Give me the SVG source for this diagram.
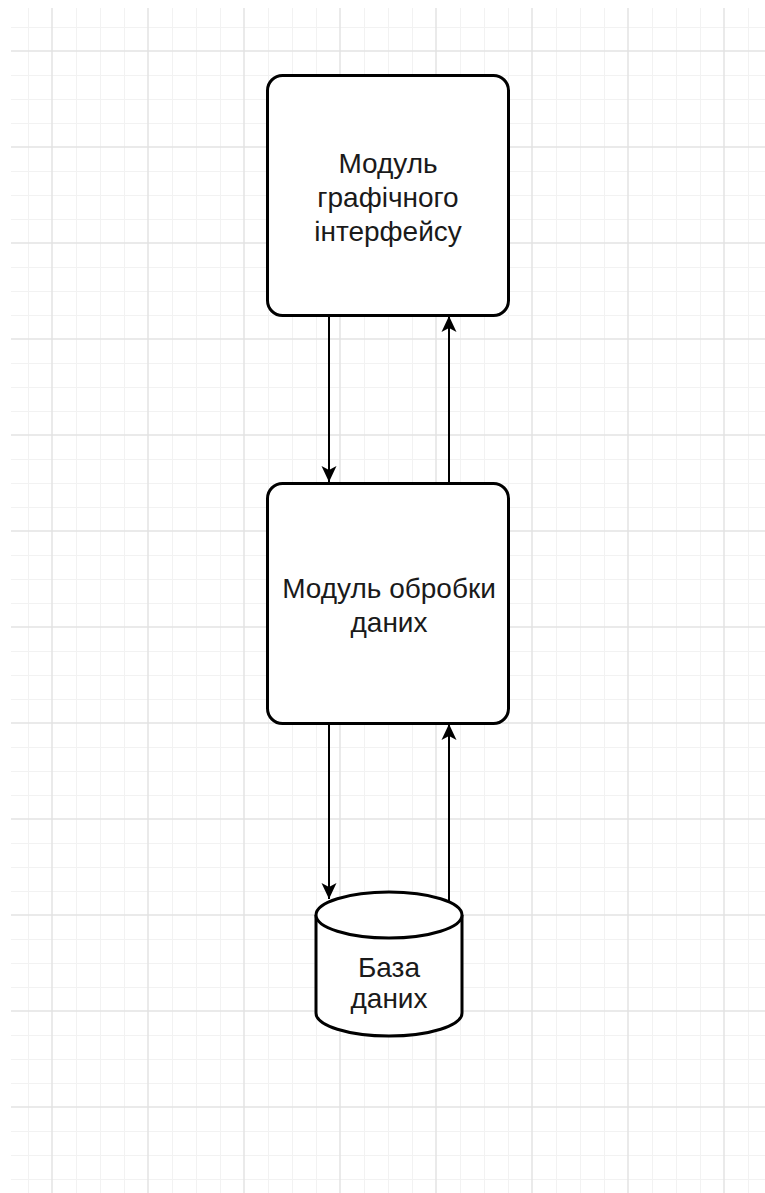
<svg xmlns="http://www.w3.org/2000/svg" width="765" height="1193" viewBox="0 0 765 1193">
<defs>
<style>
.minor{stroke:#f2f2f2;stroke-width:1;fill:none}
.major{stroke:#e3e3e3;stroke-width:1.5;fill:none}
.node{fill:#ffffff;stroke:#000000;stroke-width:3}
.edge{stroke:#000000;stroke-width:2;fill:none}
.lbl{font-family:"Liberation Sans",Arial,sans-serif;font-size:28px;fill:#1a1a1a;text-anchor:middle}
</style>
<marker id="arr" viewBox="0 0 18 18" refX="17" refY="9" markerWidth="18" markerHeight="18" markerUnits="userSpaceOnUse" orient="auto">
<path d="M17,9 L1,1.5 L5,9 L1,16.5 Z" fill="#000"/>
</marker>
</defs>
<rect x="0" y="0" width="765" height="1193" fill="#ffffff"/>
<g id="grid">
<path class="minor" d="M28.5,8V1193M76.5,8V1193M100.5,8V1193M124.5,8V1193M172.5,8V1193M196.5,8V1193M220.5,8V1193M268.5,8V1193M292.5,8V1193M316.5,8V1193M364.5,8V1193M388.5,8V1193M412.5,8V1193M460.5,8V1193M484.5,8V1193M508.5,8V1193M556.5,8V1193M580.5,8V1193M604.5,8V1193M652.5,8V1193M676.5,8V1193M700.5,8V1193M748.5,8V1193
M11,27.5H765M11,75.5H765M11,99.5H765M11,123.5H765M11,171.5H765M11,195.5H765M11,219.5H765M11,267.5H765M11,291.5H765M11,315.5H765M11,363.5H765M11,387.5H765M11,411.5H765M11,459.5H765M11,483.5H765M11,507.5H765M11,555.5H765M11,579.5H765M11,603.5H765M11,651.5H765M11,675.5H765M11,699.5H765M11,747.5H765M11,771.5H765M11,795.5H765M11,843.5H765M11,867.5H765M11,891.5H765M11,939.5H765M11,963.5H765M11,987.5H765M11,1035.5H765M11,1059.5H765M11,1083.5H765M11,1131.5H765M11,1155.5H765M11,1179.5H765"/>
<path class="major" d="M52,8V1193M148,8V1193M244,8V1193M340,8V1193M436,8V1193M532,8V1193M628,8V1193M724,8V1193
M11,51H765M11,147H765M11,243H765M11,339H765M11,435H765M11,531H765M11,627H765M11,723H765M11,819H765M11,915H765M11,1011H765M11,1107H765"/>
</g>
<g id="connectors">
<path class="edge" d="M329,316V482" marker-end="url(#arr)"/>
<path class="edge" d="M449,482V316" marker-end="url(#arr)"/>
<path class="edge" d="M329,724V899" marker-end="url(#arr)"/>
<path class="edge" d="M449,902V724" marker-end="url(#arr)"/>
</g>
<g id="gui-module">
<rect class="node" x="267.5" y="75.5" width="241" height="240" rx="15" ry="15"/>
<text class="lbl"><tspan x="388" y="173">Модуль</tspan><tspan x="388" y="207">графічного</tspan><tspan x="388" y="241">інтерфейсу</tspan></text>
</g>
<g id="data-module">
<rect class="node" x="267.5" y="483.5" width="241" height="240" rx="15" ry="15"/>
<text class="lbl"><tspan x="389" y="598">Модуль обробки</tspan><tspan x="389" y="632">даних</tspan></text>
</g>
<g id="database">
<path class="node" d="M316,915 A73,23 0 0 1 462,915 V1013 A73,23 0 0 1 316,1013 Z"/>
<path class="node" d="M316,915 A73,23 0 0 0 462,915" fill="none"/>
<text class="lbl"><tspan x="389" y="977">База</tspan><tspan x="389" y="1008">даних</tspan></text>
</g>
</svg>
